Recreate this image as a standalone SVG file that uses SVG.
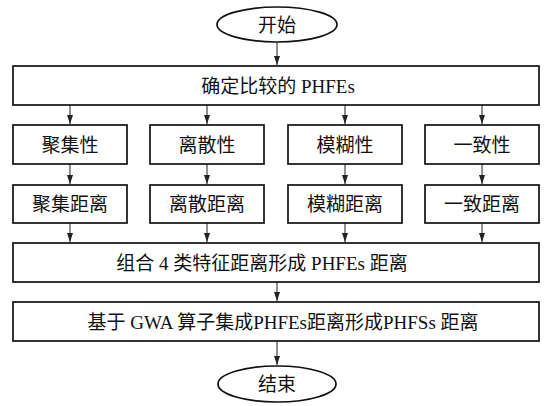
<svg xmlns="http://www.w3.org/2000/svg" width="550" height="406" viewBox="0 0 550 406">
<defs>
<marker id="ah" markerWidth="9" markerHeight="6" refX="9" refY="3" orient="auto" markerUnits="userSpaceOnUse" viewBox="0 0 9 6">
<path d="M0,0 L9,3 L0,6 z" fill="#222"/>
</marker>
<style>
.b{fill:#fff;stroke:#111;stroke-width:1.7}
.t{font-family:"Liberation Serif","Noto Sans CJK SC",serif;font-size:19px;fill:#111;text-anchor:middle;dominant-baseline:central}
.c line{stroke:#333;stroke-width:1.1}
</style>
</defs>
<rect width="550" height="406" fill="#fff"/>
<g class="c">
<line x1="277" y1="42" x2="277" y2="65" marker-end="url(#ah)"/>
<line x1="70" y1="105" x2="70" y2="124" marker-end="url(#ah)"/>
<line x1="207" y1="105" x2="207" y2="124" marker-end="url(#ah)"/>
<line x1="345" y1="105" x2="345" y2="124" marker-end="url(#ah)"/>
<line x1="482" y1="105" x2="482" y2="124" marker-end="url(#ah)"/>
<line x1="70" y1="164" x2="70" y2="184" marker-end="url(#ah)"/>
<line x1="207" y1="164" x2="207" y2="184" marker-end="url(#ah)"/>
<line x1="345" y1="164" x2="345" y2="184" marker-end="url(#ah)"/>
<line x1="482" y1="164" x2="482" y2="184" marker-end="url(#ah)"/>
<line x1="70" y1="223" x2="70" y2="242" marker-end="url(#ah)"/>
<line x1="207" y1="223" x2="207" y2="242" marker-end="url(#ah)"/>
<line x1="345" y1="223" x2="345" y2="242" marker-end="url(#ah)"/>
<line x1="482" y1="223" x2="482" y2="242" marker-end="url(#ah)"/>
<line x1="277" y1="282" x2="277" y2="301" marker-end="url(#ah)"/>
<line x1="277" y1="341" x2="277" y2="365" marker-end="url(#ah)"/>
</g>
<g id="start"><ellipse class="b" cx="277" cy="24.5" rx="60" ry="17.5"/><text class="t" x="277" y="25">开始</text></g>
<g id="determine"><rect class="b" x="13" y="66" width="526" height="39"/><text class="t" x="278" y="86">确定比较的 PHFEs</text></g>
<g id="f1"><rect class="b" x="13" y="125" width="114" height="39"/><text class="t" x="70" y="145">聚集性</text></g>
<g id="f2"><rect class="b" x="150" y="125" width="114" height="39"/><text class="t" x="207" y="145">离散性</text></g>
<g id="f3"><rect class="b" x="288" y="125" width="114" height="39"/><text class="t" x="345" y="145">模糊性</text></g>
<g id="f4"><rect class="b" x="425" y="125" width="114" height="39"/><text class="t" x="482" y="145">一致性</text></g>
<g id="d1"><rect class="b" x="13" y="185" width="114" height="38"/><text class="t" x="70" y="204">聚集距离</text></g>
<g id="d2"><rect class="b" x="150" y="185" width="114" height="38"/><text class="t" x="207" y="204">离散距离</text></g>
<g id="d3"><rect class="b" x="288" y="185" width="114" height="38"/><text class="t" x="345" y="204">模糊距离</text></g>
<g id="d4"><rect class="b" x="425" y="185" width="114" height="38"/><text class="t" x="482" y="204">一致距离</text></g>
<g id="combine"><rect class="b" x="13" y="243" width="526" height="39"/><text class="t" x="262" y="263">组合 4 类特征距离形成 PHFEs 距离</text></g>
<g id="integrate"><rect class="b" x="13" y="302" width="526" height="39"/><text class="t" x="283" y="322">基于 GWA 算子集成PHFEs距离形成PHFSs 距离</text></g>
<g id="end"><ellipse class="b" cx="277" cy="384" rx="59" ry="18"/><text class="t" x="277" y="384">结束</text></g>
</svg>
